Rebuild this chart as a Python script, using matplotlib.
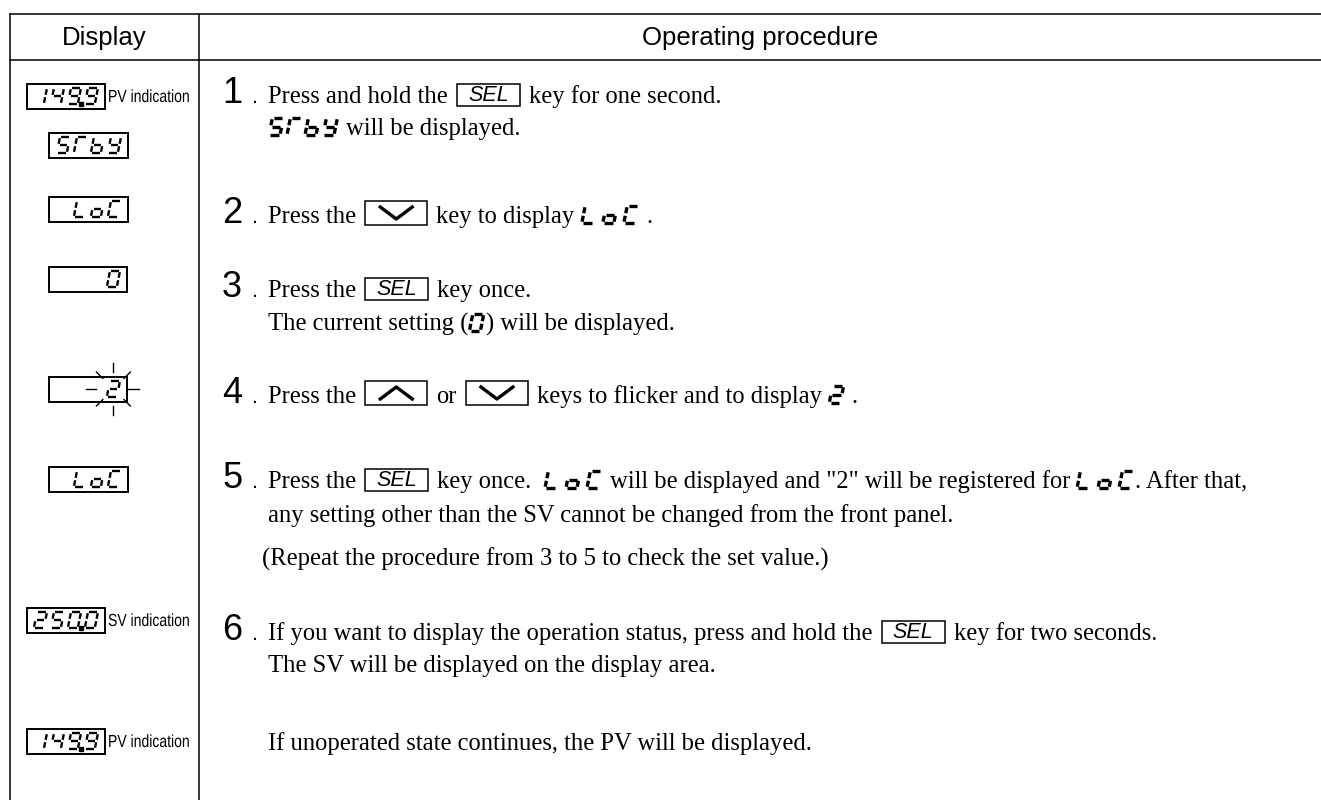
import matplotlib
matplotlib.use('Agg')
import matplotlib.pyplot as plt
from matplotlib.patches import Rectangle, PathPatch
from matplotlib.textpath import TextPath
from matplotlib.font_manager import FontProperties
from matplotlib.transforms import Affine2D

W, H = 1321, 800

# ---- content -------------------------------------------------------------
headers = ['Display', 'Operating procedure']

# left column: 7-segment readouts (' ' = blank digit)
disp_chars = ['1499', '5Tby', ' LoC', '   0', '   2', ' LoC', '2500', '1499']
disp_dp = [2, None, None, None, None, None, 2, 2]          # decimal point after digit idx
disp_labels = ['PV indication', '', '', '', '', '', 'SV indication', 'PV indication']
disp_flicker = [False, False, False, False, True, False, False, False]

step_nums = ['1', '2', '3', '4', '5', '6']

# right column lines; tuples are ('seg', chars) or ('key', name)
proc_lines = [
    ['Press and hold the ', ('key', 'SEL'), ' key for one second.'],
    [('seg', '5Tby'), ' will be displayed.'],
    ['Press the ', ('key', 'down'), ' key to display ', ('seg', 'LoC'), ' .'],
    ['Press the ', ('key', 'SEL'), ' key once.'],
    ['The current setting (', ('seg', '0'), ') will be displayed.'],
    ['Press the ', ('key', 'up'), ' or ', ('key', 'down'), ' keys to flicker and to display ', ('seg', '2'), ' .'],
    ['Press the ', ('key', 'SEL'), ' key once.  ', ('seg', 'LoC'), ' will be displayed and "2" will be registered for ',
     ('seg', 'LoC'), '. After that,'],
    ['any setting other than the SV cannot be changed from the front panel.'],
    ['(Repeat the procedure from 3 to 5 to check the set value.)'],
    ['If you want to display the operation status, press and hold the ', ('key', 'SEL'), ' key for two seconds.'],
    ['The SV will be displayed on the display area.'],
    ['If unoperated state continues, the PV will be displayed.'],
]

# ---- layout (pixels, y down) --------------------------------------------
col_left, col_div = 10, 199
header_top, header_bot = 14, 60
disp_y = [96, 145, 209, 279, 389, 479, 620, 741]
disp_x = [(27, 105), (49, 128), (49, 128), (49, 127), (49, 127), (49, 128), (27, 105), (27, 105)]
step_y = [103, 223, 297, 403, 488, 640]
proc_y = [103, 135, 223, 297, 331, 403, 488, 522, 566, 640, 672, 750]
proc_x = [268] * 8 + [262] + [268] * 3

SERIF = 'Liberation Serif'
SANS = 'Liberation Sans'
BODY = 17.7

fig = plt.figure(figsize=(W / 100, H / 100), dpi=100)
ax = fig.add_axes([0, 0, 1, 1])
ax.set_xlim(0, W)
ax.set_ylim(H, 0)
ax.axis('off')
fig.canvas.draw()
renderer = fig.canvas.get_renderer()

SEGS = {'0': 'abcdef', '1': 'bc', '2': 'abdeg', '4': 'bcfg', '5': 'acdfg', '9': 'abcdfg',
        'L': 'def', 'o': 'cdeg', 'C': 'adef', 'b': 'cdefg', 'y': 'bcdfg', 'T': 'aef', ' ': ''}
ENDS = {'a': ((0, 1), (1, 1)), 'b': ((1, 1), (1, .5)), 'c': ((1, .5), (1, 0)),
        'd': ((0, 0), (1, 0)), 'e': ((0, 0), (0, .5)), 'f': ((0, .5), (0, 1)), 'g': ((0, .5), (1, .5))}


def seg_char(x, yb, ch, w, h, lw, slant=0.2):
    for s in SEGS[ch]:
        pts = ENDS[s]
        px = [x + u * w + v * h * slant for u, v in pts]
        py = [yb - v * h for u, v in pts]
        dx, dy = px[1] - px[0], py[1] - py[0]
        L = (dx * dx + dy * dy) ** 0.5
        g = min(1.3, L * 0.15) / L
        ax.plot([px[0] + dx * g, px[1] - dx * g], [py[0] + dy * g, py[1] - dy * g],
                color='black', lw=lw, solid_capstyle='butt')


def narrow_text(x, y, s, size, sx=0.8):
    # condensed sans (no Arial Narrow installed): squeeze a text path
    tp = TextPath((0, 0), s, size=size, prop=FontProperties(family=SANS))
    tr = Affine2D().scale(sx, -1).translate(x, y) + ax.transData
    ax.add_patch(PathPatch(tp, transform=tr, fc='black', ec='none', lw=0))


def put_str(x, y, s):
    sp = BODY * 100 / 72 * 0.25
    lead = len(s) - len(s.lstrip(' '))
    trail = len(s) - len(s.rstrip(' '))
    core = s.strip(' ')
    x += lead * sp
    if core:
        t = ax.text(x, y, core, fontsize=BODY, family=SERIF, va='baseline', ha='left', color='black')
        x += t.get_window_extent(renderer).width
    return x + trail * sp


def put_key(x, y, name):
    x += 3
    if name == 'SEL':
        w, top, bot = 63, y - 19, y + 3
        ax.add_patch(Rectangle((x, top), w, bot - top, fill=False, lw=1.1, ec='black'))
        ax.text(x + w / 2, (top + bot) / 2 + 0.5, 'SEL', fontsize=15.5, family=SANS, style='italic',
                ha='center', va='center', color='black')
    else:
        w, top, bot = 62, y - 22, y + 2
        ax.add_patch(Rectangle((x, top), w, bot - top, fill=False, lw=1.1, ec='black'))
        if name == 'down':
            ax.plot([x + 15, x + w / 2, x + w - 15], [top + 6, bot - 6, top + 6], color='black', lw=2.4)
        else:
            ax.plot([x + 15, x + w / 2, x + w - 15], [bot - 6, top + 6, bot - 6], color='black', lw=2.4)
    return x + w + 3


def put_seg(x, y, chars):
    pitch = 18 if len(chars) > 3 else 21
    h, w = 17, 11
    for i, ch in enumerate(chars):
        seg_char(x + 1 + i * pitch, y, ch, w, h, 2.4)
    return x + 1 + (len(chars) - 1) * pitch + w + h * 0.2 + 2


# ---- table frame ---------------------------------------------------------
for yy in (header_top, header_bot):
    ax.plot([col_left, W], [yy, yy], color='black', lw=1.1)
for xx in (col_left, col_div):
    ax.plot([xx, xx], [header_top, H], color='black', lw=1.1)

ax.text((col_left + col_div) / 2, 45, headers[0], fontsize=18.5, family=SANS, ha='center', va='baseline')
ax.text((col_div + W) / 2, 45, headers[1], fontsize=18.5, family=SANS, ha='center', va='baseline')

# ---- display column ------------------------------------------------------
dh, dw, pitch, slant = 16, 10, 17, 0.2
for chars, dp, lab, flick, cy, (x0, x1) in zip(disp_chars, disp_dp, disp_labels, disp_flicker, disp_y, disp_x):
    bh = 25
    ax.add_patch(Rectangle((x0, cy - bh / 2), x1 - x0, bh, fill=False, lw=1.4, ec='black'))
    yb = cy + dh / 2
    rx = x1 - 7 - dh * slant
    n = len(chars)
    for i, ch in enumerate(chars):
        lx = rx - dw - (n - 1 - i) * pitch
        seg_char(lx, yb, ch, dw, dh, 1.7, slant)
        if dp is not None and i == dp:
            ax.plot(lx + dw + 3, yb, 's', ms=2.4, color='black')
    if lab:
        narrow_text(x1 + 3, cy + 6, lab, 17.5, 0.8)
    if flick:
        fx = rx - dw / 2 + dh * slant / 2
        for ddx, ddy, r0, r1 in [(1, 0, 15, 26), (-1, 0, 17, 27), (0, 1, 17, 26), (0, -1, 17, 26),
                                 (.707, .707, 15, 24), (-.707, .707, 15, 24),
                                 (.707, -.707, 15, 24), (-.707, -.707, 15, 24)]:
            ax.plot([fx + ddx * r0, fx + ddx * r1], [cy + ddy * r0, cy + ddy * r1], color='black', lw=1.0)

# ---- procedure column ----------------------------------------------------
for num, yy in zip(step_nums, step_y):
    ax.text(222, yy, num, fontsize=26, family=SANS, ha='left', va='baseline')
    ax.text(252, yy, '.', fontsize=16, family=SANS, ha='left', va='baseline')

for pieces, yy, xx in zip(proc_lines, proc_y, proc_x):
    x = xx
    for p in pieces:
        if isinstance(p, str):
            x = put_str(x, yy, p)
        elif p[0] == 'key':
            x = put_key(x, yy, p[1])
        else:
            x = put_seg(x, yy, p[1])

fig.savefig('out.png', dpi=100)
